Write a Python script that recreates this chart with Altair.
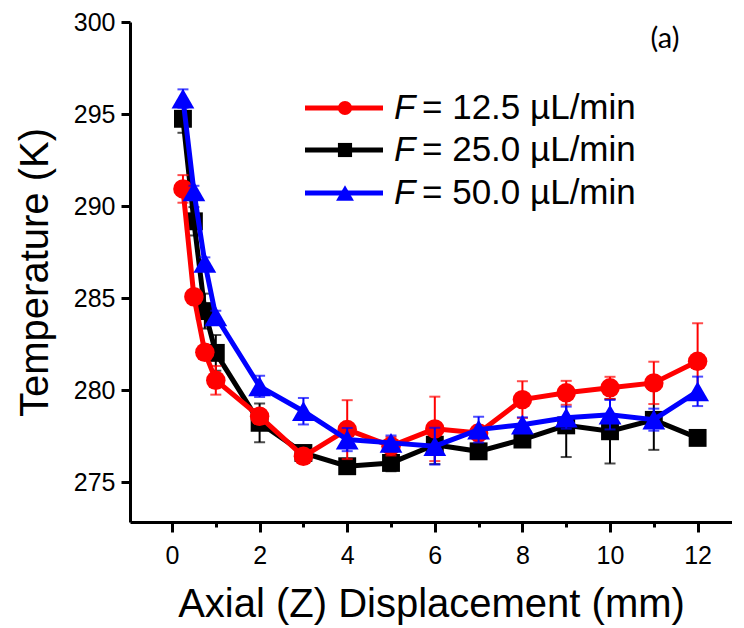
import altair as alt
import pandas as pd

# ---- data ----
z = [0.25, 0.5, 0.75, 1, 2, 3, 4, 5, 6, 7, 8, 9, 10, 11, 12]

t_125 = [290.93, 285.07, 282.05, 280.53, 278.57, 276.40, 277.85, 276.95, 277.89, 277.67, 279.48, 279.85, 280.12, 280.39, 281.56]
e_125 = [0.75, 0.3, 0.3, 0.78, 0.4, 0.2, 1.6, 0.5, 1.75, 0.4, 1.0, 0.65, 0.6, 1.15, 2.07]

t_250 = [294.74, 289.17, 284.29, 282.02, 278.22, 276.58, 275.86, 276.04, 277.03, 276.67, 277.31, 278.08, 277.76, 278.38, 277.40]
e_250 = [0.76, 0.77, 0.95, 0.97, 1.05, 0.3, 0.3, 0.45, 1.05, 0.3, 0.3, 1.72, 1.75, 1.63, 0.15]

t_500 = [295.84, 290.80, 286.91, 284.01, 280.20, 278.85, 277.31, 277.13, 276.95, 277.85, 278.12, 278.50, 278.66, 278.39, 279.93]
e_500 = [0.5, 0.3, 0.3, 0.3, 0.58, 0.72, 0.63, 0.4, 1.0, 0.7, 0.4, 0.6, 0.8, 0.6, 0.8]

flow_labels = ["12.5", "25.0", "50.0"]
colors = ["#ff0000", "#000000", "#0000ff"]
shapes = ["circle", "square", "triangle-up"]
point_sizes = [380, 320, 520]
legend_sizes = [200, 200, 320]
temps = [t_125, t_250, t_500]
errs = [e_125, e_250, e_500]

y_ticks = [275, 280, 285, 290, 295, 300]
x_ticks = list(range(0, 13))

FONT = "Liberation Sans"

x_scale = alt.Scale(domain=[-0.959, 12.785], nice=False, zero=False)
y_scale = alt.Scale(domain=[272.83, 300], nice=False, zero=False)

x_axis = alt.Axis(
    title="Axial (Z) Displacement (mm)", values=x_ticks,
    labelExpr="datum.value % 2 ? '' : datum.label",
    tickSize={"condition": {"test": "datum.value % 2 !== 0", "value": 5}, "value": 10},
    grid=False, domainColor="black", domainWidth=3, tickColor="black", tickWidth=3,
    labelFont=FONT, labelFontSize=25, labelColor="black", labelPadding=11, labelOverlap=False,
    titleFont=FONT, titleFontSize=40, titleFontWeight="normal", titleColor="black", titlePadding=16,
)
y_axis = alt.Axis(
    title="Temperature (K)", values=y_ticks, tickSize=9,
    grid=False, domainColor="black", domainWidth=3, tickColor="black", tickWidth=3,
    labelFont=FONT, labelFontSize=25, labelColor="black", labelPadding=6, labelOverlap=False,
    titleFont=FONT, titleFontSize=40, titleFontWeight="normal", titleColor="black", titlePadding=18,
)

layers = []
for i in [1, 0, 2]:
    df = pd.DataFrame({"z": z, "t": temps[i], "e": errs[i]})
    df["lo"] = df["t"] - df["e"]
    df["hi"] = df["t"] + df["e"]
    base = alt.Chart(df)
    line = base.mark_line(strokeWidth=5, color=colors[i]).encode(
        x=alt.X("z:Q", scale=x_scale, axis=x_axis),
        y=alt.Y("t:Q", scale=y_scale, axis=y_axis),
    )
    err = base.mark_errorbar(ticks=True, thickness=2, size=11, color=colors[i]).encode(
        x=alt.X("z:Q", scale=x_scale, axis=x_axis),
        y=alt.Y("lo:Q", scale=y_scale, axis=y_axis),
        y2="hi:Q",
    )
    pts = base.mark_point(shape=shapes[i], filled=True, opacity=1, size=point_sizes[i], color=colors[i]).encode(
        x=alt.X("z:Q", scale=x_scale, axis=x_axis),
        y=alt.Y("t:Q", scale=y_scale, axis=y_axis),
    )
    layers += [line, err, pts]

# ---- legend (drawn by hand, top right inside plot) ----
leg_y = [86, 128, 171]
for i in range(3):
    ldf = pd.DataFrame({"rest": ["= " + flow_labels[i] + " µL/min"], "f": ["F"]})
    lb = alt.Chart(ldf)
    layers.append(lb.mark_rule(strokeWidth=5, color=colors[i]).encode(
        x=alt.value(175), x2=alt.value(253), y=alt.value(leg_y[i])))
    layers.append(lb.mark_point(shape=shapes[i], filled=True, opacity=1, size=legend_sizes[i], color=colors[i]).encode(
        x=alt.value(215), y=alt.value(leg_y[i])))
    layers.append(lb.mark_text(align="left", baseline="middle", font=FONT, fontSize=35, fontStyle="italic", color="black").encode(
        x=alt.value(264), y=alt.value(leg_y[i]), text="f:N"))
    layers.append(lb.mark_text(align="left", baseline="middle", font=FONT, fontSize=35, color="black").encode(
        x=alt.value(292), y=alt.value(leg_y[i]), text="rest:N"))

adf = pd.DataFrame({"lab": ["(a)"]})
layers.append(alt.Chart(adf).mark_text(align="center", baseline="middle", font="Lato", fontSize=29, color="black").encode(
    x=alt.value(535), y=alt.value(17), text="lab:N"))

chart = alt.layer(*layers).properties(
    width=602, height=500,
    background="white",
    autosize=alt.AutoSizeParams(type="none"),
    padding={"left": 122, "top": 14, "right": 0, "bottom": 104},
).configure_view(stroke="transparent")

chart.save("out.html", embed_options={"renderer": "svg", "actions": False})
